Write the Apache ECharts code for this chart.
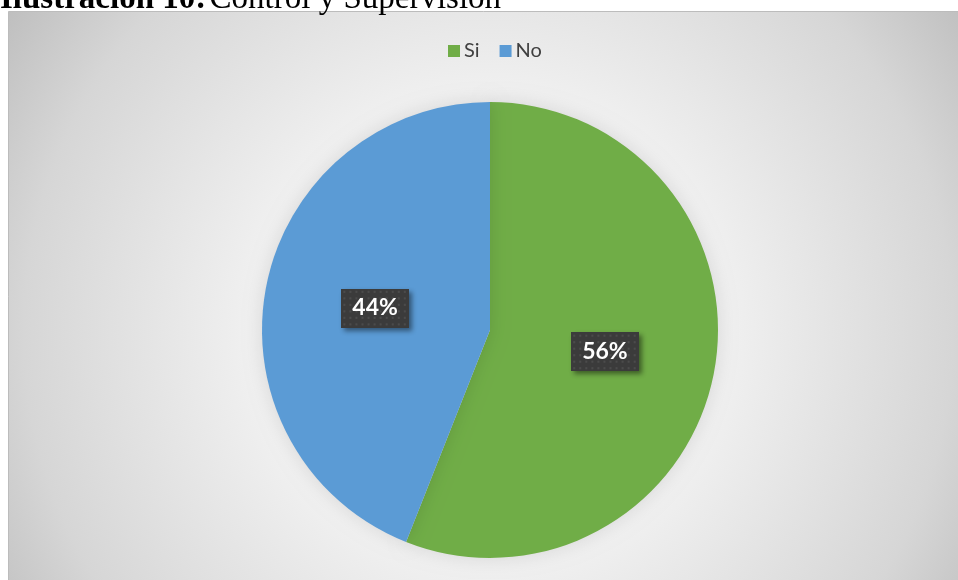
<!DOCTYPE html>
<html>
<head>
<meta charset="utf-8">
<script src="https://cdn.jsdelivr.net/npm/echarts@6/dist/echarts.min.js"></script>
<style>
  html, body { margin: 0; padding: 0; background: #ffffff; }
  #chart { width: 958px; height: 580px; }
</style>
</head>
<body>
<div id="chart"></div>
<script>
// Survey answers: share of respondents
const categories = ['Si', 'No'];
const shares = [56, 44];
const colors = ['#70ad47', '#5b9bd5'];

// Dark dotted tile used behind the percentage labels
function dottedTile(w, h) {
  const c = document.createElement('canvas');
  c.width = w; c.height = h;
  const g = c.getContext('2d');
  g.fillStyle = '#3b3b3b';
  g.fillRect(0, 0, w, h);
  g.fillStyle = '#4b4b4b';
  for (let y = 2; y < h; y += 6) {
    for (let x = 2; x < w; x += 6) {
      g.fillRect(x, y, 2, 2);
    }
  }
  return c;
}
const tile = dottedTile(67, 36);

const chart = echarts.init(document.getElementById('chart'), null, { renderer: 'canvas' });

chart.setOption({
  animation: false,
  graphic: [
    {
      type: 'rect',
      z: -10,
      shape: { x: 8.5, y: 11.5, width: 960, height: 580 },
      style: {
        fill: {
          type: 'radial', x: 0.5, y: 0.55, r: 1.0,
          colorStops: [
            { offset: 0, color: '#ffffff' },
            { offset: 0.35, color: '#f4f4f4' },
            { offset: 0.8, color: '#d6d6d6' },
            { offset: 1, color: '#bebebe' }
          ]
        },
        stroke: '#bcbcbc',
        lineWidth: 1
      }
    },
    {
      type: 'text',
      left: 0,
      top: -17,
      style: {
        text: '{b|Ilustración 10:} {n|Control y Supervisión}',
        rich: {
          b: { fontFamily: 'Liberation Serif', fontWeight: 'bold', fontSize: 33, fill: '#000000' },
          n: { fontFamily: 'Liberation Serif', fontSize: 33, fill: '#000000' }
        }
      }
    }
  ],
  legend: {
    data: categories,
    top: 36,
    left: 443,
    itemWidth: 12,
    itemHeight: 12,
    itemGap: 20,
    icon: 'rect',
    textStyle: { fontFamily: 'Lato', fontSize: 20, color: '#404040', padding: [0, 0, 0, -1] }
  },
  series: [{
    type: 'pie',
    center: [490, 330],
    radius: [0, 228],
    startAngle: 90,
    clockwise: true,
    label: {
      show: true,
      position: 'inside',
      formatter: '{d}%',
      fontFamily: 'Lato',
      fontWeight: 'bold',
      fontSize: 23,
      color: '#ffffff',
      backgroundColor: { image: tile },
      padding: [8, 11],
      shadowColor: 'rgba(0,0,0,0.45)',
      shadowBlur: 5,
      shadowOffsetX: 3,
      shadowOffsetY: 3
    },
    labelLine: { show: false },
    itemStyle: {
      shadowBlur: 18,
      shadowColor: 'rgba(0,0,0,0.12)'
    },
    emphasis: { disabled: true },
    data: categories.map((name, i) => ({
      name: name,
      value: shares[i],
      itemStyle: { color: colors[i] }
    }))
  }]
});
</script>
</body>
</html>
